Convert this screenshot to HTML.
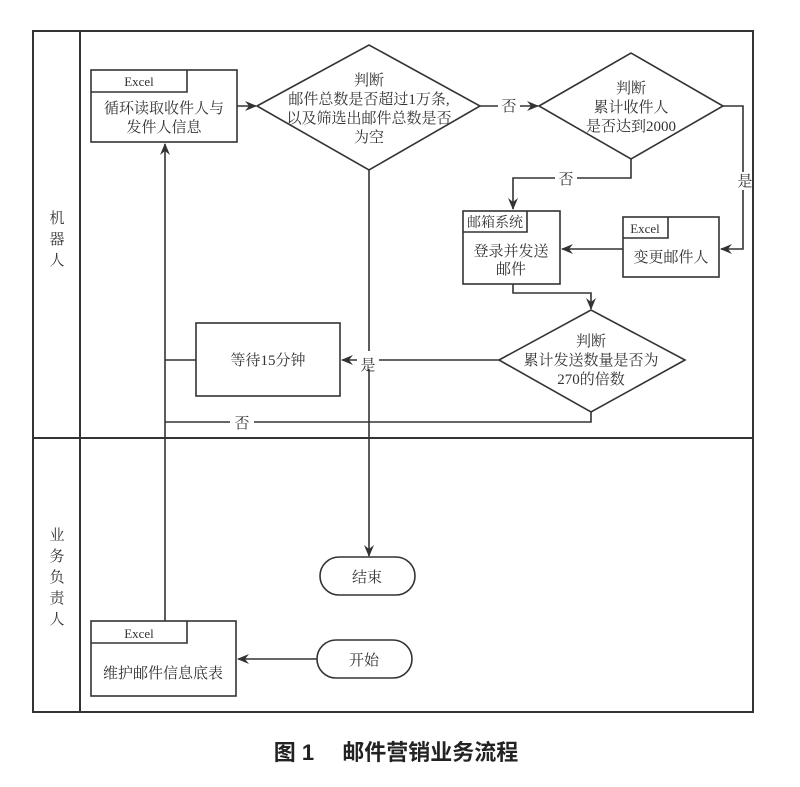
<!DOCTYPE html>
<html><head><meta charset="utf-8"><style>
html,body{margin:0;padding:0;background:#fff;width:800px;height:787px;overflow:hidden}
text{font-family:"Liberation Serif","Noto Serif CJK SC",serif;fill:#333}
</style></head><body>
<svg width="800" height="787" viewBox="0 0 800 787" xmlns="http://www.w3.org/2000/svg">
<defs><marker id="a" markerWidth="12" markerHeight="10" refX="11" refY="5" orient="auto" markerUnits="userSpaceOnUse"><path d="M0,0 L12,5 L0,10 L4,5 Z" fill="#333"/></marker></defs>
<g stroke="#333" stroke-width="2" fill="none">
<rect x="33" y="31" width="720" height="681"/>
<line x1="80" y1="31" x2="80" y2="712"/>
<line x1="33" y1="438" x2="753" y2="438"/>
</g>
<g stroke="#333" stroke-width="1.6" fill="none">
<rect x="91" y="70" width="146" height="72"/><polyline points="91,92 187,92 187,70"/>
<polygon points="257,106 369,45 480,106 369,170"/>
<polygon points="539,106 631,53 723,106 631,159"/>
<rect x="623" y="217" width="96" height="60"/><polyline points="623,238 668,238 668,217"/>
<rect x="463" y="211" width="97" height="73"/><polyline points="463,232 527,232 527,211"/>
<polygon points="499,360 591,310 685,360 591,412"/>
<rect x="196" y="323" width="144" height="73"/>
<rect x="320" y="557" width="95" height="38" rx="19"/>
<rect x="317" y="640" width="95" height="38" rx="19"/>
<rect x="91" y="621" width="145" height="75"/><polyline points="91,643 187,643 187,621"/>
<line x1="237" y1="106" x2="256" y2="106" marker-end="url(#a)"/>
<line x1="480" y1="106" x2="538" y2="106" marker-end="url(#a)"/>
<polyline points="723,106 743,106 743,249 721,249" marker-end="url(#a)"/>
<line x1="623" y1="249" x2="562" y2="249" marker-end="url(#a)"/>
<polyline points="631,159 631,178 513,178 513,209" marker-end="url(#a)"/>
<polyline points="513,284 513,293 591,293 591,309" marker-end="url(#a)"/>
<line x1="499" y1="360" x2="342" y2="360" marker-end="url(#a)"/>
<line x1="196" y1="360" x2="165" y2="360"/>
<polyline points="591,412 591,422 165,422"/>
<line x1="165" y1="621" x2="165" y2="144" marker-end="url(#a)"/>
<line x1="369" y1="170" x2="369" y2="556" marker-end="url(#a)"/>
<line x1="317" y1="659" x2="238" y2="659" marker-end="url(#a)"/>
</g>
<g fill="#fff"><rect x="498" y="97" width="22" height="18"/><rect x="555" y="170" width="22" height="17"/><rect x="736" y="172" width="16" height="18"/><rect x="357" y="351" width="22" height="18"/><rect x="230" y="414" width="24" height="17"/></g>
<g font-size="15" text-anchor="middle">
<text x="139" y="86" font-size="13">Excel</text>
<text x="164" y="113">循环读取收件人与</text><text x="164" y="132">发件人信息</text>
<text x="369" y="85">判断</text>
<text x="369" y="104">邮件总数是否超过1万条,</text>
<text x="369" y="123">以及筛选出邮件总数是否</text>
<text x="369" y="142">为空</text>
<text x="509" y="111">否</text>
<text x="631" y="93">判断</text><text x="631" y="112">累计收件人</text><text x="631" y="131">是否达到2000</text>
<text x="745" y="186">是</text>
<text x="566" y="184">否</text>
<text x="645" y="233" font-size="13">Excel</text>
<text x="671" y="262">变更邮件人</text>
<text x="495" y="227" font-size="14">邮箱系统</text>
<text x="511" y="256">登录并发送</text><text x="511" y="274">邮件</text>
<text x="591" y="346">判断</text><text x="591" y="365">累计发送数量是否为</text><text x="591" y="384">270的倍数</text>
<text x="268" y="365">等待15分钟</text>
<text x="368" y="370">是</text>
<text x="242" y="428">否</text>
<text x="367" y="582">结束</text>
<text x="364" y="665">开始</text>
<text x="139" y="638" font-size="13">Excel</text>
<text x="163" y="678">维护邮件信息底表</text>
<text x="57" y="223">机</text><text x="57" y="244">器</text><text x="57" y="265">人</text>
<text x="57" y="540">业</text><text x="57" y="561">务</text><text x="57" y="582">负</text><text x="57" y="603">责</text><text x="57" y="624">人</text>
</g>
<text x="396" y="760" text-anchor="middle" font-size="22" font-weight="bold" style="font-family:'Liberation Sans','Noto Sans CJK SC',sans-serif;fill:#222">图 1　 邮件营销业务流程</text>
</svg>
</body></html>
